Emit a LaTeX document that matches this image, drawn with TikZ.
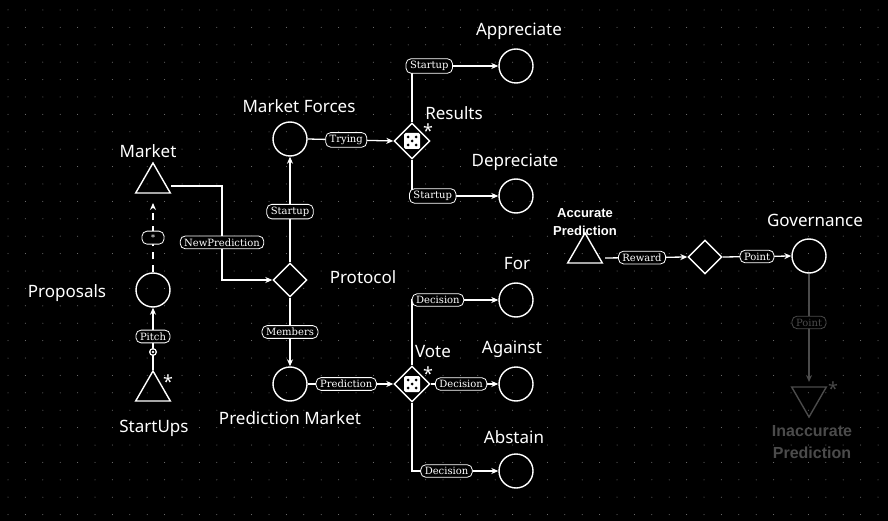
\documentclass[tikz,border=0pt]{standalone}
\usepackage{fontspec}
\setmainfont{Noto Sans}
\newfontfamily\lblfont{DejaVu Serif}
\newfontfamily\boldfont{Liberation Sans}
\usetikzlibrary{shapes.geometric,arrows.meta,calc}
\definecolor{dimc}{RGB}{75,75,75}
\tikzset{
  x=1pt,y=-1pt,
  every node/.style={text=white},
  pool/.style={circle,draw=white,line width=1.4pt,minimum size=34pt,inner sep=0},
  gate/.style={diamond,draw=white,line width=1.4pt,fill=black,minimum size=34pt,inner sep=0},
  src/.style={isosceles triangle,isosceles triangle apex angle=60,shape border rotate=90,draw=white,line width=1.4pt,minimum height=30pt,inner sep=0},
  drain/.style={isosceles triangle,isosceles triangle apex angle=60,shape border rotate=-90,draw=dimc,line width=1.4pt,minimum height=30pt,inner sep=0},
  title/.style={font=\fontsize{17}{19}\selectfont},
  elabel/.style={draw=white,fill=black,solid,rounded corners=5pt,inner xsep=4pt,inner ysep=2.5pt,font=\lblfont\fontsize{10}{11}\selectfont,line width=0.8pt},
  flow/.style={white,line width=1.3pt,-{Stealth[length=7pt,width=6pt]}},
  star/.style={font=\fontsize{18}{18}\selectfont}
}
\newcommand{\dice}[1]{%
  \fill[white,rounded corners=1.5pt] ($(#1)+(-8,-8)$) rectangle ($(#1)+(8,8)$);
  \foreach \dx/\dy in {-4/-4,4/-4,0/0,-4/4,4/4}{\fill[black] ($(#1)+(\dx,\dy)$) circle (1.5);}
}
\begin{document}
\begin{tikzpicture}
\fill[black] (0,0) rectangle (888,521);
\useasboundingbox (0,0) rectangle (888,521);
\foreach \i in {0,...,50}{\foreach \j in {0,...,29}{\fill[dimc!70] (8+17.4*\i,10+17.4*\j) circle (0.5);}}
% nodes
\node[src] (market) at (153,183) {};
\node[title] at (148,151) {Market};
\node[pool] (prop) at (153,290) {};
\node[title] at (67,293) {Proposals};
\node[src] (start) at (153,391) {};
\node[title] at (154,428) {StartUps};
\node[star] at (168,382) {*};
\node[gate] (proto) at (290,280) {};
\node[title] at (363,277) {Protocol};
\node[pool] (mf) at (290,139) {};
\node[title] at (299,106) {Market Forces};
\node[pool] (pm) at (290,384) {};
\node[title] at (290,418) {Prediction Market};
\node[gate,minimum size=36pt] (vote) at (412,384) {};
\dice{vote}
\node[title] at (433,352) {Vote};
\node[star] at (428,374) {*};
\node[gate,minimum size=36pt] (res) at (412,141) {};
\dice{res}
\node[title] at (454,113) {Results};
\node[star] at (428,131) {*};
\node[pool] (app) at (516,66) {};
\node[title] at (519,31) {Appreciate};
\node[pool] (dep) at (516,196) {};
\node[title] at (515,162) {Depreciate};
\node[pool] (for) at (516,300) {};
\node[title] at (517,264) {For};
\node[pool] (ag) at (516,384) {};
\node[title] at (512,349) {Against};
\node[pool] (ab) at (516,471) {};
\node[title] at (514,437) {Abstain};
\node[src] (acc) at (585,253) {};
\node[font=\boldfont\bfseries\fontsize{13}{18}\selectfont,align=center] at (585,222) {Accurate\\Prediction};
\node[gate] (g2) at (705,257) {};
\node[pool] (gov) at (809,256) {};
\node[title] at (815,220) {Governance};
\node[drain] (inacc) at (809,397) {};
\node[star,text=dimc] at (833,389) {*};
\node[font=\boldfont\bfseries\fontsize{16}{22}\selectfont,align=center,text=dimc] at (812,442) {Inaccurate\\Prediction};
% connectors
\draw[white,line width=1.3pt] (start.apex) -- (153,352);
\draw[flow] (153,352) -- node[elabel,pos=0.35] {Pitch} (prop.south);
\fill[white] (153,352) circle (4); \fill[black] (153,352) circle (2.5); \fill[white] (153,352) circle (1.4);
\draw[flow,dash pattern=on 7pt off 6pt] (prop.north) -- node[elabel,minimum width=22pt,minimum height=13pt,inner sep=0pt,font=\lblfont\fontsize{8}{8}\selectfont] {*} (153,203);
\draw[flow] (171,186) -- (222,186) |- node[elabel,pos=0.3] {NewPrediction} (proto.west);
\draw[flow] (proto.north) -- node[elabel,pos=0.48] {Startup} (mf.south);
\draw[flow] (proto.south) -- node[elabel,pos=0.5] {Members} (pm.north);
\draw[flow] (mf.east) -- node[elabel,pos=0.45] {Trying} (res.west);
\draw[flow] (res.north) |- node[elabel,pos=0.6] {Startup} (app.west);
\draw[flow] (res.south) |- node[elabel,pos=0.62] {Startup} (dep.west);
\draw[flow] (pm.east) -- node[elabel,pos=0.45] {Prediction} (vote.west);
\draw[flow] (vote.north) |- node[elabel,pos=0.65] {Decision} (for.west);
\draw[flow] (vote.east) -- node[elabel,pos=0.45] {Decision} (ag.west);
\draw[flow] (vote.south) |- node[elabel,pos=0.7] {Decision} (ab.west);
\draw[flow] (605,258) -- node[elabel,pos=0.45] {Reward} (g2.west);
\draw[flow] (g2.east) -- node[elabel,pos=0.5] {Point} (gov.west);
\draw[line width=1.3pt,dimc,-{Stealth[length=7pt,width=6pt]}] (gov.south) -- node[elabel,draw=dimc,text=dimc,pos=0.45] {Point} (809,382);
\end{tikzpicture}
\end{document}
